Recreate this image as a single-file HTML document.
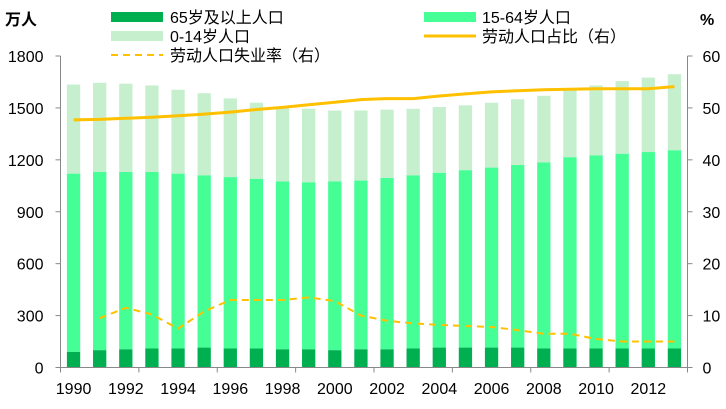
<!DOCTYPE html>
<html><head><meta charset="utf-8"><style>
body{margin:0;background:#fff;}
svg text{font-family:"Liberation Sans","Noto Sans CJK SC",sans-serif;fill:#000;}
</style></head><body>
<svg id="c" width="726" height="404" xmlns="http://www.w3.org/2000/svg"></svg>
<script>
const tot=[1635,1645,1640,1630,1605,1585,1555,1530,1505,1495,1485,1485,1490,1495,1505,1515,1530,1550,1570,1605,1630,1655,1675,1695];
const mid=[1120,1130,1130,1130,1120,1110,1100,1090,1075,1070,1075,1080,1095,1110,1125,1140,1155,1170,1185,1215,1225,1235,1245,1255];
const old=[90,100,105,110,110,115,110,110,105,105,100,105,105,110,115,115,115,115,110,110,110,110,110,110];
const ratio=[47.7,47.8,48,48.2,48.5,48.8,49.2,49.7,50.1,50.6,51.1,51.6,51.8,51.8,52.3,52.7,53.1,53.3,53.5,53.6,53.7,53.7,53.7,54.1];
const un=[null,9.5,11.5,10.2,7.5,10.8,13,13,13,13.5,12.8,10,9,8.5,8.2,8,7.8,7.2,6.5,6.5,5.5,5,5,5];
const x0=60.5,x1=687.5,cw=(x1-x0)/24,y0=367.5,ytop=56;
const yL=v=>y0-v*(y0-ytop)/1800, yR=v=>y0-v*(y0-ytop)/60;
let s='';
for(let i=0;i<24;i++){const bx=x0+i*cw+6.4,w=13.3;
s+=`<rect x="${bx}" y="${yL(tot[i])}" width="${w}" height="${yL(mid[i])-yL(tot[i])}" fill="#c6efce"/>`;
s+=`<rect x="${bx}" y="${yL(mid[i])}" width="${w}" height="${yL(old[i])-yL(mid[i])}" fill="#45ff96"/>`;
s+=`<rect x="${bx}" y="${yL(old[i])}" width="${w}" height="${y0-yL(old[i])}" fill="#00b050"/>`;}
s+=`<line x1="${x0}" y1="${ytop}" x2="${x0}" y2="${y0}" stroke="#888"/>`;
s+=`<line x1="${x1}" y1="${ytop}" x2="${x1}" y2="${y0}" stroke="#888"/>`;
s+=`<line x1="${x0}" y1="${y0}" x2="${x1}" y2="${y0}" stroke="#888"/>`;
for(let k=0;k<=6;k++){const y=yL(k*300);
s+=`<line x1="${x0-5}" y1="${y}" x2="${x0}" y2="${y}" stroke="#888"/><text x="${x0-17}" y="${y+6}" font-size="16" text-anchor="end">${k*300}</text>`;
s+=`<line x1="${x1}" y1="${y}" x2="${x1+5}" y2="${y}" stroke="#888"/><text x="${x1+15}" y="${y+6}" font-size="16">${k*10}</text>`;}
for(let k=0;k<=8;k++){const x=x0+k*3*cw;s+=`<line x1="${x}" y1="${y0}" x2="${x}" y2="${y0+5}" stroke="#888"/>`;}
for(let i=0;i<24;i+=2){s+=`<text x="${x0+(i+.5)*cw}" y="394" font-size="16" text-anchor="middle">${1990+i}</text>`;}
let p=ratio.map((v,i)=>`${x0+(i+.5)*cw},${yR(v)}`).join(' ');
s+=`<polyline points="${p}" fill="none" stroke="#ffc000" stroke-width="3"/>`;
let q=un.map((v,i)=>v==null?null:`${x0+(i+.5)*cw},${yR(v)}`).filter(a=>a).join(' ');
s+=`<polyline points="${q}" fill="none" stroke="#ffc000" stroke-width="2" stroke-dasharray="7,5"/>`;
s+=`<text x="5" y="25" font-size="16" font-weight="bold">万人</text><text x="700" y="25" font-size="16" font-weight="bold">%</text>`;
s+=`<rect x="111" y="12" width="52" height="10" fill="#00b050"/><text x="170" y="23" font-size="16">65岁及以上人口</text>`;
s+=`<rect x="424" y="12" width="52" height="10" fill="#45ff96"/><text x="482" y="23" font-size="16">15-64岁人口</text>`;
s+=`<rect x="111" y="31" width="52" height="10" fill="#c6efce"/><text x="170" y="42" font-size="16">0-14岁人口</text>`;
s+=`<line x1="424" y1="36" x2="476" y2="36" stroke="#ffc000" stroke-width="3"/><text x="482" y="42" font-size="16">劳动人口占比（右）</text>`;
s+=`<line x1="111" y1="55" x2="163" y2="55" stroke="#ffc000" stroke-width="2" stroke-dasharray="7,5"/><text x="170" y="61" font-size="16">劳动人口失业率（右）</text>`;
document.getElementById('c').innerHTML=s;
</script>
</body></html>
